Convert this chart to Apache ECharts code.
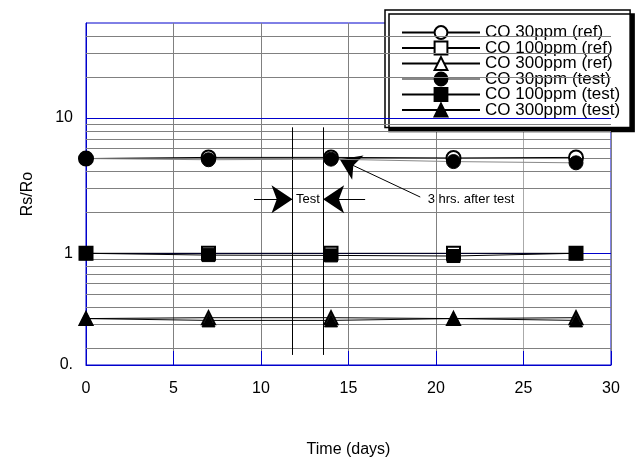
<!DOCTYPE html>
<html>
<head>
<meta charset="utf-8">
<script src="https://cdn.jsdelivr.net/npm/echarts@6/dist/echarts.min.js"></script>
<style>html,body{margin:0;padding:0;background:#fff;}#c{width:642px;height:463px;}</style>
</head>
<body>
<div id="c"></div>
<script>
// ---- data ----
const days = [0, 7, 14, 21, 28];
const co30Ref   = [5.0, 5.1, 5.1, 5.05, 5.1];
const co100Ref  = [1.0, 1.0, 1.0, 1.0, 1.0];
const co300Ref  = [0.33, 0.335, 0.335, 0.33, 0.335];
const co30Test  = [5.0, 4.9, 4.95, 4.75, 4.65];
const co100Test = [1.0, 0.97, 0.965, 0.955, 1.0];
const co300Test = [0.33, 0.32, 0.32, 0.33, 0.32];
const seriesNames = ['CO 30ppm (ref)', 'CO 100ppm (ref)', 'CO 300ppm (ref)',
                     'CO 30ppm (test)', 'CO 100ppm (test)', 'CO 300ppm (test)'];
const xMin = 0, xMax = 30, xStep = 5;
const yMin = 0.15, yMax = 50;
const yLabelValues = [1, 10];
const yMinLabel = '0.';
const greyGridValues = [0.2, 0.3, 0.4, 0.5, 0.6, 0.7, 0.8, 0.9, 2, 3, 4, 5, 6, 7, 8, 9, 20, 30, 40];
const blueGridValues = [1, 10];
// annotations (data coordinates)
const testLineDays = [11.8, 13.55];
const testLineRange = [0.178, 8.5];
const testArrowY = 2.5;
const testArrowLeft = [9.6, 11.8];
const testArrowRight = [15.95, 13.55];
const testLabel = {text: 'Test', x: 12.68, y: 2.5};
const afterArrowFrom = [19.1, 2.6];
const afterArrowTo = [14.5, 4.95];
const afterLabel = {text: '3 hrs. after test', x: 22.0, y: 2.5};

const FONT = 'Liberation Sans, Arial, Helvetica, sans-serif';
const BLUE = '#0000cc';

function pairs(ys) { return days.map((d, i) => [d, ys[i]]); }

const seriesDefs = [
  {data: co30Ref,   symbol: 'emptyCircle',   size: 14, line: '#000'},
  {data: co100Ref,  symbol: 'emptyRect',     size: 13, line: '#000'},
  {data: co300Ref,  symbol: 'emptyTriangle', size: 13, line: '#000'},
  {data: co30Test,  symbol: 'circle',        size: 14, line: '#888'},
  {data: co100Test, symbol: 'rect',          size: 13, line: '#000'},
  {data: co300Test, symbol: 'triangle',      size: 13, line: '#000'}
];

const dataSeries = seriesDefs.map((s, i) => ({
  name: seriesNames[i],
  type: 'line',
  data: pairs(s.data),
  symbol: s.symbol,
  symbolSize: s.size,
  showSymbol: true,
  clip: false,
  z: 5,
  lineStyle: {color: s.line, width: 1},
  itemStyle: {color: '#000', borderColor: '#000', borderWidth: 1}
}));

const gridSeries = {
  name: 'grid', type: 'line', data: [], z: 1, silent: true,
  markLine: {
    silent: true, animation: false, symbol: 'none', label: {show: false},
    data: greyGridValues.map(v => ({yAxis: v, lineStyle: {color: '#808080', width: 1, type: 'solid'}}))
      .concat(blueGridValues.map(v => ({yAxis: v, lineStyle: {color: BLUE, width: 1, type: 'solid'}})))
  }
};

const annoSeries = {
  name: 'anno', type: 'line', data: [], z: 6, silent: true,
  markLine: {
    silent: true, animation: false, label: {show: false},
    lineStyle: {color: '#000', width: 1, type: 'solid'},
    symbol: 'none',
    data: [
      [{coord: [testLineDays[0], testLineRange[0]]}, {coord: [testLineDays[0], testLineRange[1]]}],
      [{coord: [testLineDays[1], testLineRange[0]]}, {coord: [testLineDays[1], testLineRange[1]]}],
      [{coord: [testArrowLeft[0], testArrowY], symbol: 'none'}, {coord: [testArrowLeft[1], testArrowY], symbol: 'arrow', symbolSize: 21}],
      [{coord: [testArrowRight[0], testArrowY], symbol: 'none'}, {coord: [testArrowRight[1], testArrowY], symbol: 'arrow', symbolSize: 21}],
      [{coord: afterArrowFrom, symbol: 'none'}, {coord: afterArrowTo, symbol: 'arrow', symbolSize: 20}]
    ]
  },
  markPoint: {
    silent: true, animation: false, symbol: 'rect', symbolSize: 1,
    itemStyle: {color: 'rgba(0,0,0,0)'},
    data: [
      {coord: [testLabel.x, testLabel.y], label: {show: true, position: 'inside', formatter: testLabel.text, color: '#000', fontSize: 13, fontFamily: FONT}},
      {coord: [afterLabel.x, afterLabel.y], label: {show: true, position: 'inside', formatter: afterLabel.text, color: '#000', fontSize: 13, fontFamily: FONT}}
    ]
  }
};

const chart = echarts.init(document.getElementById('c'), null, {renderer: 'canvas'});
chart.setOption({
  animation: false,
  backgroundColor: '#fff',
  textStyle: {fontFamily: FONT},
  grid: {left: 86, right: 31, top: 23, bottom: 86, show: true, borderColor: BLUE, borderWidth: 1, backgroundColor: 'rgba(0,0,0,0)'},
  legend: {
    data: seriesNames,
    orient: 'vertical', left: 385, top: 10,
    padding: [14, 10, 9, 16],
    itemWidth: 78, itemHeight: 16, itemGap: -1.5,
    backgroundColor: '#fff', borderColor: '#000', borderWidth: 1.5,
    shadowColor: '#000', shadowOffsetX: 4, shadowOffsetY: 4, shadowBlur: 0,
    textStyle: {fontSize: 17, color: '#000', fontFamily: FONT, lineHeight: 15},
    selectedMode: false
  },
  xAxis: {
    type: 'value', min: xMin, max: xMax, interval: xStep,
    axisLine: {show: true, lineStyle: {color: BLUE, width: 1}},
    axisTick: {show: true, inside: true, length: 14, lineStyle: {color: BLUE, width: 1}},
    splitLine: {show: true, lineStyle: {color: ['#808080', '#808080', '#808080', '#808080', '#808080', '#aaaaaa', '#808080'], width: 1}},
    axisLabel: {color: '#000', fontSize: 16, margin: 16, fontFamily: FONT},
    name: 'Time (days)', nameLocation: 'middle', nameGap: 77,
    nameTextStyle: {color: '#000', fontSize: 16, fontFamily: FONT}
  },
  yAxis: {
    type: 'log', logBase: 10, min: yMin, max: yMax,
    axisLine: {show: true, lineStyle: {color: BLUE, width: 1}},
    axisTick: {show: false},
    splitLine: {show: false},
    axisLabel: {
      color: '#000', fontSize: 16, margin: 13, fontFamily: FONT,
      showMinLabel: true, showMaxLabel: true,
      formatter: function (v) {
        if (Math.abs(v - yMin) < 1e-6) return yMinLabel;
        for (const t of yLabelValues) if (Math.abs(v - t) < 1e-6 * t) return String(t);
        return '';
      }
    },
    name: 'Rs/Ro', nameLocation: 'middle', nameGap: 50,
    nameTextStyle: {color: '#000', fontSize: 16, fontFamily: FONT}
  },
  series: [gridSeries].concat(dataSeries).concat([annoSeries])
});
</script>
</body>
</html>
